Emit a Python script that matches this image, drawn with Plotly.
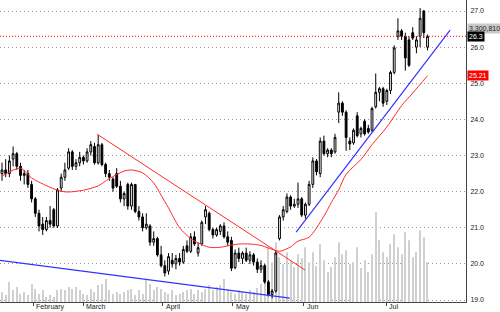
import plotly.graph_objects as go

# ---------------- data ----------------
opens = [22.5, 22.6, 22.5, 22.9, 23.05, 22.7, 22.45, 22.5, 22.2, 21.8,
         21.4, 21.1, 20.95, 21.2, 21.5, 21.05, 22.1, 22.4, 22.65, 23.1,
         22.7, 22.8, 22.95, 22.85, 23.1, 23.25, 22.8, 23.3, 22.75, 22.5,
         22.35, 22.5, 22.15, 21.8, 22.2, 21.6, 22.2, 21.45, 21.3, 21.0,
         21.05, 20.6, 20.7, 20.25, 19.95, 19.8, 20.1, 20.0, 20.15, 20.05,
         20.5, 20.35, 20.75, 20.3, 20.55, 21.3, 21.4, 20.95, 20.8, 20.9,
         21.05, 20.75, 20.65, 19.9, 20.3, 20.15, 20.3, 20.1, 20.25, 20.05,
         19.85, 19.95, 19.5, 19.15, 19.25, 20.7, 21.3, 21.45, 21.85, 21.6,
         21.65, 21.8, 21.35, 21.65, 22.2, 22.85, 22.5, 23.4, 23.05, 23.15,
         23.1, 24.2, 24.45, 24.2, 23.4, 23.35, 24.1, 23.6, 23.95, 23.75,
         23.7, 24.35, 24.75, 24.85, 24.5, 24.8, 25.3, 26.3, 26.45, 26.3,
         26.2, 26.4, 26.0, 26.3, 27.0, 26.0]
highs = [22.8, 22.9, 23.0, 23.25, 23.1, 22.8, 22.6, 22.6, 22.3, 21.85,
         21.5, 21.3, 21.3, 21.6, 21.55, 22.1, 22.5, 22.8, 23.2, 23.15,
         22.9, 23.1, 23.0, 23.2, 23.4, 23.35, 23.57, 23.35, 22.8, 22.6,
         22.4, 22.65, 22.3, 22.0, 22.25, 22.25, 22.2, 21.6, 21.4, 21.4,
         21.1, 20.9, 20.75, 20.5, 20.1, 20.3, 20.3, 20.25, 20.3, 20.5,
         20.65, 20.85, 20.9, 20.6, 21.2, 21.6, 21.45, 21.0, 21.0, 21.1,
         21.15, 20.9, 20.75, 20.4, 20.45, 20.35, 20.45, 20.35, 20.3, 20.15,
         20.1, 20.0, 19.55, 19.3, 20.35, 21.35, 21.6, 21.95, 21.9, 21.8,
         22.25, 21.85, 21.7, 22.3, 22.95, 22.9, 23.5, 23.55, 23.2, 23.2,
         23.6, 24.75, 24.5, 24.25, 23.5, 23.75, 24.2, 23.8, 24.0, 23.85,
         24.35, 25.27, 24.9, 24.9, 24.85, 25.35, 26.05, 26.8, 26.5, 26.4,
         26.3, 26.55, 26.3, 27.08, 27.03, 26.35]
lows = [22.3, 22.4, 22.4, 22.7, 22.6, 22.3, 22.2, 22.1, 21.7, 21.3,
        20.9, 20.8, 20.9, 21.0, 21.0, 21.0, 22.0, 22.3, 22.6, 22.6,
        22.6, 22.7, 22.75, 22.8, 23.0, 22.75, 22.75, 22.7, 22.4, 22.3,
        22.0, 22.1, 21.7, 21.6, 21.5, 21.5, 21.4, 21.2, 20.9, 20.95,
        20.5, 20.5, 20.2, 19.9, 19.65, 19.7, 19.9, 19.85, 19.95, 20.0,
        20.3, 20.3, 20.5, 20.2, 20.5, 21.1, 20.9, 20.7, 20.75, 20.8,
        20.7, 20.5, 19.8, 19.85, 20.05, 20.0, 20.05, 20.0, 19.95, 19.75,
        19.75, 19.45, 19.1, 19.05, 19.2, 20.65, 21.2, 21.4, 21.5, 21.55,
        21.55, 21.3, 21.25, 21.6, 22.1, 22.45, 22.4, 23.0, 22.95, 22.95,
        23.05, 23.9, 24.1, 23.13, 23.15, 23.3, 23.5, 23.5, 23.55, 23.6,
        23.65, 24.3, 24.5, 24.35, 24.4, 24.7, 25.25, 26.2, 26.2, 25.35,
        25.45, 26.2, 25.83, 26.0, 26.25, 25.91]
closes = [22.6, 22.5, 22.85, 23.05, 22.7, 22.45, 22.5, 22.2, 21.8, 21.4,
          21.05, 20.95, 21.2, 21.1, 21.05, 22.05, 22.4, 22.6, 23.1, 22.7,
          22.8, 22.95, 22.85, 23.1, 23.3, 22.8, 23.3, 22.75, 22.5, 22.4,
          22.1, 22.15, 21.8, 21.95, 21.6, 22.2, 21.45, 21.3, 21.0, 21.1,
          20.6, 20.7, 20.25, 19.95, 19.75, 20.2, 20.0, 20.15, 20.05, 20.4,
          20.35, 20.75, 20.55, 20.45, 21.15, 21.5, 20.95, 20.8, 20.95, 21.05,
          20.75, 20.6, 19.88, 20.3, 20.15, 20.3, 20.1, 20.25, 20.05, 19.85,
          19.95, 19.5, 19.15, 19.25, 20.3, 21.3, 21.5, 21.85, 21.6, 21.65,
          21.8, 21.35, 21.65, 22.2, 22.85, 22.55, 23.4, 23.05, 23.15, 23.05,
          23.5, 24.45, 24.2, 23.5, 23.32, 23.7, 23.55, 23.75, 23.6, 23.65,
          24.3, 24.75, 24.85, 24.45, 24.8, 25.3, 25.98, 26.45, 26.3, 25.7,
          25.5, 26.25, 26.2, 26.8, 26.4, 26.3]
# volume in thousands of shares
volume = [330, 231, 660, 396, 495, 264, 330, 231, 594, 429,
          264, 396, 165, 231, 165, 396, 429, 396, 495, 429,
          495, 396, 264, 231, 429, 330, 561, 594, 759, 396,
          264, 330, 264, 330, 396, 429, 231, 396, 264, 726,
          594, 396, 495, 429, 330, 264, 396, 231, 264, 330,
          396, 429, 264, 396, 330, 429, 561, 396, 495, 561,
          759, 429, 330, 264, 396, 330, 264, 396, 330, 462,
          594, 990, 1815, 1320, 1980, 1485, 1254, 1650, 1386, 1155,
          1584, 1452, 1815, 1320, 1650, 1188, 1914, 1386, 990, 1155,
          1485, 1980, 1584, 1716, 1254, 1320, 1815, 1122, 1386, 990,
          1584, 2970, 2046, 1650, 1485, 1914, 2244, 1815, 1584, 2310,
          2046, 1485, 1650, 2376, 2145, 1320]
bar_idx = list(range(len(closes)))

# moving average (read at selected bars)
ma_idx = [0, 5, 8, 13, 16, 18, 22, 26, 29, 33, 35, 38, 41, 43, 45, 48, 51, 53,
          56, 59, 62, 64, 67, 70, 72, 75, 78, 80, 83, 87, 89, 91, 93, 97, 100,
          104, 108, 111, 115]
ma_val = [22.43, 22.65, 22.38, 22.12, 22.01, 21.99, 22.04, 22.16, 22.36, 22.57,
          22.60, 22.52, 22.24, 21.90, 21.55, 21.00, 20.70, 20.58, 20.46, 20.46,
          20.52, 20.55, 20.55, 20.51, 20.44, 20.35, 20.47, 20.63, 20.74, 21.32,
          21.70, 22.05, 22.48, 22.89, 23.30, 23.79, 24.38, 24.73, 25.21]

# trend lines (bar index, price)
red_trend_x = [25.7, 81.9]
red_trend_y = [23.59, 19.83]
blue_low_x = [-0.54, 77.8]
blue_low_y = [20.10, 19.05]
blue_up_x = [79.5, 121.1]
blue_up_y = [20.88, 26.47]

month_labels = ["February", "March", "April", "May", "Jun", "Jul"]
month_pos = [8.4, 22.0, 43.5, 62.3, 81.6, 103.8]

price_ticks = [19, 20, 21, 22, 23, 24, 25, 26, 27]
last_volume_label = "3,300,810"
volume_tag_price = 26.53

# ---------------- figure ----------------
fig = go.Figure()

fig.add_trace(go.Bar(x=bar_idx, y=volume, width=0.3,
                     marker=dict(color="#d0d0d0", line=dict(width=0)),
                     yaxis="y", hoverinfo="skip"))

fig.add_trace(go.Candlestick(
    x=bar_idx, open=opens, high=highs, low=lows, close=closes,
    increasing=dict(line=dict(color="black", width=1), fillcolor="white"),
    decreasing=dict(line=dict(color="black", width=1), fillcolor="black"),
    whiskerwidth=0, yaxis="y2"))

fig.add_trace(go.Scatter(x=ma_idx, y=ma_val, mode="lines", yaxis="y2",
                         line=dict(color="#ff2a2a", width=1, shape="spline", smoothing=0.8)))
fig.add_trace(go.Scatter(x=red_trend_x, y=red_trend_y, mode="lines", yaxis="y2",
                         line=dict(color="#ff2a2a", width=1)))
fig.add_trace(go.Scatter(x=blue_low_x, y=blue_low_y, mode="lines", yaxis="y2",
                         line=dict(color="#3333ff", width=1.2)))
fig.add_trace(go.Scatter(x=blue_up_x, y=blue_up_y, mode="lines", yaxis="y2",
                         line=dict(color="#3333ff", width=1.2)))

x_range = [-0.54, 125.4]

# last close dotted line
fig.add_shape(type="line", xref="x", yref="y2", x0=x_range[0], x1=x_range[1],
              y0=closes[-1], y1=closes[-1],
              line=dict(color="#ff0000", width=1, dash="1px,2px"))

annotations = []
for lab, pos in zip(month_labels, month_pos):
    annotations.append(dict(text=lab, x=pos, xref="x", y=0, yref="paper",
                            xanchor="left", yanchor="top", showarrow=False,
                            xshift=1, yshift=1,
                            font=dict(family="Liberation Sans, Arial", size=7, color="#222")))
# right tags
annotations.append(dict(text=last_volume_label, x=1, xref="paper", y=volume_tag_price, yref="y2",
                        xanchor="left", yanchor="middle", showarrow=False, xshift=1,
                        bgcolor="#c8c8c8", borderpad=1,
                        font=dict(family="Liberation Sans, Arial", size=7, color="#222")))
annotations.append(dict(text=f"{closes[-1]:.1f}", x=1, xref="paper", y=closes[-1], yref="y2",
                        xanchor="left", yanchor="middle", showarrow=False, xshift=1,
                        bgcolor="#000000", borderpad=1,
                        font=dict(family="Liberation Sans, Arial", size=7, color="#ffffff")))
annotations.append(dict(text=f"{ma_val[-1]:.2f}", x=1, xref="paper", y=ma_val[-1], yref="y2",
                        xanchor="left", yanchor="middle", showarrow=False, xshift=1,
                        bgcolor="#ff0000", borderpad=1,
                        font=dict(family="Liberation Sans, Arial", size=7, color="#ffffff")))

fig.update_layout(
    width=500, height=312,
    margin=dict(l=0, r=34, t=0, b=10),
    paper_bgcolor="white", plot_bgcolor="white",
    showlegend=False,
    annotations=annotations,
    xaxis=dict(range=x_range, showgrid=False, zeroline=False,
               rangeslider=dict(visible=False),
               showline=True, linecolor="#444", linewidth=1,
               tickmode="array", tickvals=month_pos, ticktext=[""] * len(month_pos),
               ticks="outside", ticklen=3, tickcolor="#444", showticklabels=False),
    yaxis=dict(range=[0, 10000], visible=False, showgrid=False, zeroline=False),
    yaxis2=dict(range=[18.945, 27.305], overlaying="y", side="right",
                showgrid=True, gridcolor="#999999", griddash="1px,3px", gridwidth=1,
                zeroline=False, showline=True, linecolor="#444", linewidth=1,
                tickmode="array", tickvals=price_ticks,
                ticktext=[f"{v:.1f}" for v in price_ticks],
                ticks="", ticklabelstandoff=2,
                tickfont=dict(family="Liberation Sans, Arial", size=7, color="#222")),
)

fig.write_html("out.html")
